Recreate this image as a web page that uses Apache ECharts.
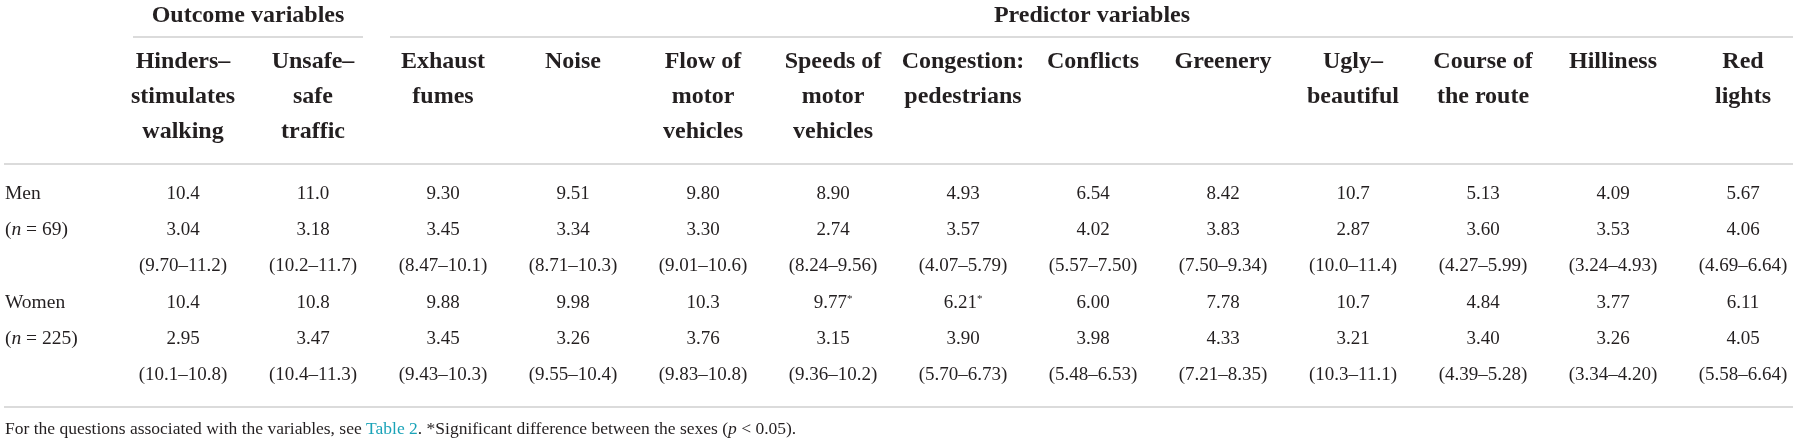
<!DOCTYPE html>
<html>
<head>
<meta charset="utf-8">
<script src="https://cdn.jsdelivr.net/npm/echarts@6/dist/echarts.min.js"></script>
<style>
html,body{margin:0;padding:0;background:#fff;}
#chart{width:1798px;height:442px;}
</style>
</head>
<body>
<div id="chart"></div>
<script>
// ---- Data ----
const columns = ['Hinders–\nstimulates\nwalking', 'Unsafe–\nsafe\ntraffic', 'Exhaust\nfumes', 'Noise',
  'Flow of\nmotor\nvehicles', 'Speeds of\nmotor\nvehicles', 'Congestion:\npedestrians', 'Conflicts',
  'Greenery', 'Ugly–\nbeautiful', 'Course of\nthe route', 'Hilliness', 'Red\nlights'];
const groupOutcome = 'Outcome variables';
const groupPredictor = 'Predictor variables';
const rowLabels = ['Men', '(n = 69)', ' ', 'Women', '(n = 225)', '  '];

const menMean   = [10.4, 11.0, 9.30, 9.51, 9.80, 8.90, 4.93, 6.54, 8.42, 10.7, 5.13, 4.09, 5.67];
const menSD     = [3.04, 3.18, 3.45, 3.34, 3.30, 2.74, 3.57, 4.02, 3.83, 2.87, 3.60, 3.53, 4.06];
const menCILow  = [9.70, 10.2, 8.47, 8.71, 9.01, 8.24, 4.07, 5.57, 7.50, 10.0, 4.27, 3.24, 4.69];
const menCIHigh = [11.2, 11.7, 10.1, 10.3, 10.6, 9.56, 5.79, 7.50, 9.34, 11.4, 5.99, 4.93, 6.64];

const womenMean   = [10.4, 10.8, 9.88, 9.98, 10.3, 9.77, 6.21, 6.00, 7.78, 10.7, 4.84, 3.77, 6.11];
const womenSD     = [2.95, 3.47, 3.45, 3.26, 3.76, 3.15, 3.90, 3.98, 4.33, 3.21, 3.40, 3.26, 4.05];
const womenCILow  = [10.1, 10.4, 9.43, 9.55, 9.83, 9.36, 5.70, 5.48, 7.21, 10.3, 4.39, 3.34, 5.58];
const womenCIHigh = [10.8, 11.3, 10.3, 10.4, 10.8, 10.2, 6.73, 6.53, 8.35, 11.1, 5.28, 4.20, 6.64];

const significant = [false, false, false, false, false, true, true, false, false, false, false, false, false];

// ---- Build ----
const FONT = 'Liberation Serif';
const INK = '#231f20';
const RULE = '#cfcfcf';
const f3 = v => v.toPrecision(3);

const rows = [
  menMean.map(v => f3(v)),
  menSD.map(v => f3(v)),
  menCILow.map((lo, i) => '(' + f3(lo) + '–' + f3(menCIHigh[i]) + ')'),
  womenMean.map((v, i) => significant[i] ? f3(v) + '{s|*}' : f3(v)),
  womenSD.map(v => f3(v)),
  womenCILow.map((lo, i) => '(' + f3(lo) + '–' + f3(womenCIHigh[i]) + ')')
];

const series = rows.map((cells, r) => ({
  type: 'scatter',
  symbol: 'circle',
  symbolSize: 1,
  itemStyle: { color: '#ffffff', opacity: 1 },
  silent: true,
  z: 3,
  data: cells.map((t, c) => [c, r, t]),
  label: {
    show: true,
    position: 'inside',
    formatter: p => p.value[2],
    fontFamily: FONT,
    fontSize: 19,
    color: INK,
    textBorderWidth: 0,
    rich: {
      s: { fontFamily: FONT, fontSize: 11, color: INK, padding: [0, 0, 7, 0] }
    }
  }
}));

const chart = echarts.init(document.getElementById('chart'), null, { renderer: 'canvas' });
chart.setOption({
  animation: false,
  backgroundColor: '#fff',
  grid: { left: 183, right: 55, top: 194, bottom: 67, containLabel: false },
  xAxis: {
    type: 'category',
    data: columns,
    position: 'top',
    boundaryGap: false,
    axisLine: { show: false },
    axisTick: { show: false },
    splitLine: { show: false },
    axisLabel: {
      interval: 0,
      margin: 150,
      verticalAlign: 'top',
      align: 'center',
      lineHeight: 35,
      fontFamily: FONT,
      fontWeight: 'bold',
      fontSize: 24,
      color: INK
    }
  },
  yAxis: {
    type: 'category',
    data: rowLabels,
    inverse: true,
    boundaryGap: false,
    axisLine: { show: false },
    axisTick: { show: false },
    splitLine: { show: false },
    axisLabel: {
      interval: 0,
      align: 'left',
      margin: 178,
      fontFamily: FONT,
      fontSize: 19.5,
      color: INK,
      formatter: v => v.replace('n =', '{i|n} ='),
      rich: { i: { fontFamily: FONT, fontSize: 19.5, fontStyle: 'italic', color: INK } }
    }
  },
  series: series,
  graphic: [
    { type: 'text', x: 248, y: 16, style: { text: groupOutcome, align: 'center', verticalAlign: 'middle', font: 'bold 24px "Liberation Serif"', fill: INK } },
    { type: 'text', x: 1092, y: 16, style: { text: groupPredictor, align: 'center', verticalAlign: 'middle', font: 'bold 24px "Liberation Serif"', fill: INK } },
    { type: 'line', shape: { x1: 133, y1: 37, x2: 363, y2: 37 }, style: { stroke: RULE, lineWidth: 1.5 } },
    { type: 'line', shape: { x1: 390, y1: 37, x2: 1793, y2: 37 }, style: { stroke: RULE, lineWidth: 1.5 } },
    { type: 'line', shape: { x1: 4, y1: 164, x2: 1793, y2: 164 }, style: { stroke: RULE, lineWidth: 1.5 } },
    { type: 'line', shape: { x1: 4, y1: 407, x2: 1793, y2: 407 }, style: { stroke: RULE, lineWidth: 1.5 } },
    {
      type: 'text', x: 5, y: 429,
      style: {
        text: 'For the questions associated with the variables, see {t|Table 2}. *Significant difference between the sexes ({i|p} < 0.05).',
        verticalAlign: 'middle',
        fontFamily: FONT, fontSize: 17.5, fill: INK,
        rich: {
          t: { fontFamily: FONT, fontSize: 17.5, fill: '#1aa3b8', color: '#1aa3b8' },
          i: { fontFamily: FONT, fontSize: 17.5, fontStyle: 'italic', fill: INK, color: INK }
        }
      }
    }
  ]
});
</script>
</body>
</html>
